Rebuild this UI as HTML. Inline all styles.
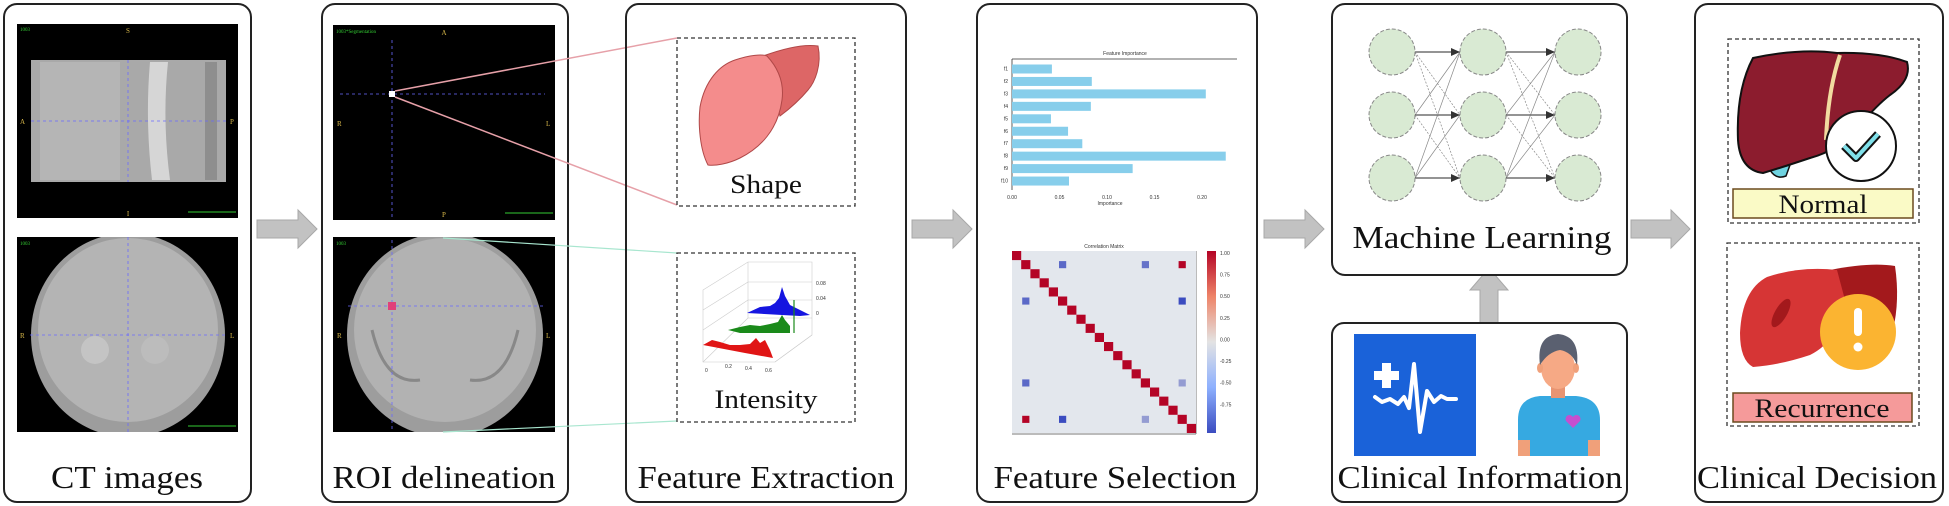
<!DOCTYPE html>
<html><head><meta charset="utf-8"><style>
html,body{margin:0;padding:0;background:#fff}
svg{display:block}
text{font-family:"Liberation Serif","Times New Roman",serif;fill:#111}
.t{font-size:32px}
.s{font-size:26px}
.tiny{font-family:"Liberation Sans",sans-serif;font-size:5px;fill:#333}
</style></head><body>
<svg id="fig" width="1949" height="506" viewBox="0 0 1949 506" xmlns="http://www.w3.org/2000/svg">
<defs>
<linearGradient id="cw" x1="0" y1="0" x2="0" y2="1">
<stop offset="0" stop-color="#b40426"/><stop offset="0.25" stop-color="#ee8468"/><stop offset="0.5" stop-color="#e3e3e3"/><stop offset="0.75" stop-color="#8db0fe"/><stop offset="1" stop-color="#3b4cc0"/>
</linearGradient>
</defs>

<g>
<rect x="4" y="4" width="247" height="498" rx="13" fill="#fff" stroke="#222" stroke-width="2"/>
<g>
<rect x="17" y="24" width="221" height="194" fill="#000"/>
<rect x="31" y="60" width="195" height="122" fill="#a9a9a9"/>
<rect x="40" y="62" width="80" height="118" fill="#b8b8b8" opacity="0.8"/>
<path d="M150 62 Q145 120 152 180 L170 180 Q162 120 168 62 Z" fill="#d6d6d6"/>
<rect x="205" y="62" width="12" height="118" fill="#8e8e8e"/>
<line x1="128" y1="60" x2="128" y2="182" stroke="#6a6aff" stroke-dasharray="3,3" stroke-width="0.8"/>
<line x1="31" y1="121" x2="226" y2="121" stroke="#6a6aff" stroke-dasharray="3,3" stroke-width="0.8"/>
<text x="128" y="33" font-size="7" text-anchor="middle" style="fill:#d8b84a">S</text>
<text x="128" y="216" font-size="7" text-anchor="middle" style="fill:#d8b84a">I</text>
<text x="20" y="124" font-size="7" style="fill:#d8b84a">A</text>
<text x="230" y="124" font-size="7" style="fill:#d8b84a">P</text>
<text x="20" y="31" font-size="5" style="fill:#3c3">1003</text>
<line x1="188" y1="212" x2="236" y2="212" stroke="#3c3" stroke-width="1"/>
</g>
<g>
<rect x="17" y="237" width="221" height="195" fill="#000"/>
<clipPath id="c1"><rect x="17" y="237" width="221" height="195"/></clipPath>
<g clip-path="url(#c1)">
<ellipse cx="128" cy="335" rx="97" ry="102" fill="#9d9d9d"/>
<ellipse cx="128" cy="330" rx="90" ry="92" fill="#b4b4b4"/>
<ellipse cx="95" cy="350" rx="14" ry="14" fill="#c4c4c4"/>
<ellipse cx="155" cy="350" rx="14" ry="14" fill="#bcbcbc"/>
</g>
<line x1="128" y1="237" x2="128" y2="432" stroke="#6a6aff" stroke-dasharray="3,3" stroke-width="0.8"/>
<line x1="30" y1="335" x2="226" y2="335" stroke="#6a6aff" stroke-dasharray="3,3" stroke-width="0.8"/>
<text x="20" y="338" font-size="7" style="fill:#d8b84a">R</text>
<text x="230" y="338" font-size="7" style="fill:#d8b84a">L</text>
<text x="20" y="245" font-size="5" style="fill:#3c3">1003</text>
<line x1="188" y1="426" x2="236" y2="426" stroke="#3c3" stroke-width="1"/>
</g>
<text class="t" x="127" y="488" text-anchor="middle" textLength="152" lengthAdjust="spacingAndGlyphs">CT images</text>
</g>

<g fill="#c2c2c2" stroke="#a8a8a8" stroke-width="1">
<path d="M257 220 H298 V210 L317 229 L298 248 V238 H257 Z"/>
<path d="M912 220 H953 V210 L972 229 L953 248 V238 H912 Z"/>
<path d="M1264 220 H1305 V210 L1324 229 L1305 248 V238 H1264 Z"/>
<path d="M1631 220 H1671 V210 L1690 229 L1671 248 V238 H1631 Z"/>
<path d="M1480 323 V290 H1470 L1489 268 L1508 290 H1498 V323 Z"/>
</g>

<g>
<rect x="322" y="4" width="246" height="498" rx="13" fill="#fff" stroke="#222" stroke-width="2"/>
<g>
<rect x="333" y="25" width="222" height="195" fill="#000"/>
<line x1="392" y1="40" x2="392" y2="220" stroke="#6a6aff" stroke-dasharray="3,3" stroke-width="0.8"/>
<line x1="340" y1="94" x2="545" y2="94" stroke="#6a6aff" stroke-dasharray="3,3" stroke-width="0.8"/>
<rect x="389" y="91" width="6" height="6" fill="#fff"/>
<text x="444" y="35" font-size="7" text-anchor="middle" style="fill:#d8b84a">A</text>
<text x="444" y="217" font-size="7" text-anchor="middle" style="fill:#d8b84a">P</text>
<text x="337" y="126" font-size="7" style="fill:#d8b84a">R</text>
<text x="546" y="126" font-size="7" style="fill:#d8b84a">L</text>
<text x="336" y="33" font-size="5" style="fill:#3c3">1003*Segmentation</text>
<line x1="505" y1="213" x2="553" y2="213" stroke="#3c3" stroke-width="1"/>
</g>
<g>
<rect x="333" y="237" width="222" height="195" fill="#000"/>
<clipPath id="c2"><rect x="333" y="237" width="222" height="195"/></clipPath>
<g clip-path="url(#c2)">
<ellipse cx="445" cy="335" rx="98" ry="102" fill="#9d9d9d"/>
<ellipse cx="445" cy="330" rx="91" ry="92" fill="#b2b2b2"/>
<path d="M372 330 Q385 385 420 380" fill="none" stroke="#888" stroke-width="3"/>
<path d="M518 330 Q505 385 470 380" fill="none" stroke="#888" stroke-width="3"/>
</g>
<line x1="392" y1="240" x2="392" y2="432" stroke="#6a6aff" stroke-dasharray="3,3" stroke-width="0.8"/>
<line x1="348" y1="306" x2="545" y2="306" stroke="#6a6aff" stroke-dasharray="3,3" stroke-width="0.8"/>
<rect x="388" y="302" width="8" height="8" fill="#e0407a"/>
<text x="337" y="338" font-size="7" style="fill:#d8b84a">R</text>
<text x="546" y="338" font-size="7" style="fill:#d8b84a">L</text>
<text x="336" y="245" font-size="5" style="fill:#3c3">1003</text>
</g>
<text class="t" x="444" y="488" text-anchor="middle" textLength="223" lengthAdjust="spacingAndGlyphs">ROI delineation</text>
</g>

<g>
<line x1="395" y1="91" x2="677" y2="38" stroke="#e6a0a8" stroke-width="1.5"/>
<line x1="395" y1="97" x2="677" y2="205" stroke="#e6a0a8" stroke-width="1.5"/>
<line x1="443" y1="238" x2="677" y2="253" stroke="#a8e6cf" stroke-width="1.2"/>
<line x1="443" y1="432" x2="677" y2="421" stroke="#a8e6cf" stroke-width="1.2"/>
</g>

<g>
<rect x="626" y="4" width="280" height="498" rx="13" fill="none" stroke="#222" stroke-width="2"/>
<rect x="677" y="38" width="178" height="168" fill="#fff" stroke="#333" stroke-width="1.3" stroke-dasharray="4,3"/>
<g>
<path d="M763 56 C785 48 805 44 818 46 C822 65 815 82 808 90 C798 102 788 110 780 116 Z" fill="#dd6666" stroke="#b04848" stroke-width="1"/>
<path d="M708 165 C700 150 698 125 700 107 C705 80 720 65 735 60 C750 55 762 54 767 56 C780 70 784 85 782 100 C778 130 760 148 740 158 C728 164 715 166 708 165 Z" fill="#f48c8c" stroke="#b04848" stroke-width="1"/>
</g>
<text class="s" x="766" y="193" text-anchor="middle" textLength="72" lengthAdjust="spacingAndGlyphs">Shape</text>
<rect x="677" y="253" width="178" height="169" fill="#fff" stroke="#333" stroke-width="1.3" stroke-dasharray="4,3"/>
<g id="hist3d">
<g stroke="#ccc" stroke-width="0.6" fill="none">
<path d="M703 290 L748 262 L812 262 L812 335 L775 362 L703 362 Z"/>
<line x1="748" y1="262" x2="748" y2="318"/><line x1="703" y1="362" x2="748" y2="318"/><line x1="748" y1="318" x2="812" y2="318"/>
<line x1="703" y1="310" x2="748" y2="282"/><line x1="748" y1="282" x2="812" y2="282"/>
<line x1="703" y1="330" x2="748" y2="300"/><line x1="748" y1="300" x2="812" y2="300"/>
<line x1="775" y1="362" x2="812" y2="335"/>
</g>
<path d="M747 313 L760 307 L770 306 L775 303 L779 298 L782 287 L785 296 L790 305 L800 310 L810 315 L800 316 Z" fill="#1515e0"/>
<path d="M728 330 L740 327 L750 325 L760 326 L770 324 L778 322 L782 315 L785 320 L790 326 L790 333 L740 333 Z" fill="#1a8a1a"/>
<line x1="794" y1="300" x2="794" y2="333" stroke="#1a8a1a" stroke-width="1.2"/>
<path d="M703 345 L712 340 L720 342 L730 345 L740 345 L750 344 L756 338 L760 343 L765 340 L770 350 L773 358 L745 353 Z" fill="#e01515"/>
<text class="tiny" x="705" y="372">0</text><text class="tiny" x="725" y="368">0.2</text><text class="tiny" x="745" y="370">0.4</text><text class="tiny" x="765" y="372">0.6</text>
<text class="tiny" x="816" y="285">0.08</text><text class="tiny" x="816" y="300">0.04</text><text class="tiny" x="816" y="315">0</text>
</g>
<text class="s" x="766" y="408" text-anchor="middle" textLength="103" lengthAdjust="spacingAndGlyphs">Intensity</text>
<text class="t" x="766" y="488" text-anchor="middle" textLength="257" lengthAdjust="spacingAndGlyphs">Feature Extraction</text>
</g>

<g>
<rect x="977" y="4" width="280" height="498" rx="13" fill="none" stroke="#222" stroke-width="2"/>
<g id="barchart">
<text class="tiny" x="1125" y="55" text-anchor="middle">Feature Importance</text>
<line x1="1012" y1="59" x2="1237" y2="59" stroke="#333" stroke-width="0.8"/>
<line x1="1012" y1="59" x2="1012" y2="190" stroke="#333" stroke-width="0.8"/>
<text class="tiny" x="1110" y="205" text-anchor="middle">Importance</text>
</g>
<g id="heatmap">
<text class="tiny" x="1104" y="248" text-anchor="middle">Correlation Matrix</text>
<line x1="1196" y1="251" x2="1196" y2="434" stroke="#777" stroke-width="1"/>
<line x1="1012" y1="434" x2="1196" y2="434" stroke="#777" stroke-width="1"/>
<rect x="1207" y="251" width="9" height="182" fill="url(#cw)"/>
</g>
<text class="t" x="1115" y="488" text-anchor="middle" textLength="243" lengthAdjust="spacingAndGlyphs">Feature Selection</text>
</g>

<g>
<rect x="1332" y="4" width="295" height="271" rx="13" fill="#fff" stroke="#222" stroke-width="2"/>
<g id="nn"></g>
<text class="t" x="1482" y="248" text-anchor="middle" textLength="259" lengthAdjust="spacingAndGlyphs">Machine Learning</text>
</g>

<g>
<rect x="1332" y="323" width="295" height="179" rx="12" fill="#fff" stroke="#222" stroke-width="2"/>
<g>
<rect x="1354" y="334" width="122" height="122" fill="#1a62d9"/>
<path d="M1382 363 h9 v8 h8 v9 h-8 v8 h-9 v-8 h-8 v-9 h8 Z" fill="#fff"/>
<polyline points="1375,397 1382,402 1390,399 1398,404 1404,397 1409,408 1414,364 1420,432 1427,391 1434,402 1441,396 1447,399 1456,399" fill="none" stroke="#fff" stroke-width="4" stroke-linejoin="round" stroke-linecap="round"/>
</g>
<g>
<path d="M1518 456 V420 Q1518 398 1540 396 L1576 396 Q1600 398 1600 420 V456 Z" fill="#36a9e1"/>
<rect x="1518" y="440" width="12" height="16" fill="#f0a07a"/>
<rect x="1588" y="440" width="12" height="16" fill="#f0a07a"/>
<rect x="1551" y="384" width="14" height="14" fill="#e89472"/>
<ellipse cx="1558" cy="368" rx="17" ry="21" fill="#f6a985"/>
<ellipse cx="1540" cy="368" rx="3" ry="5" fill="#f0a07a"/><ellipse cx="1576" cy="368" rx="3" ry="5" fill="#f0a07a"/>
<path d="M1540 365 Q1536 336 1558 334 Q1580 336 1577 365 Q1572 352 1560 350 Q1548 352 1540 365 Z" fill="#5a6070"/>
<path d="M1573 428 l-7 -7 a4 4 0 0 1 7 -4 a4 4 0 0 1 7 4 Z" fill="#c54fcf"/>
</g>
<text class="t" x="1480" y="488" text-anchor="middle" textLength="285" lengthAdjust="spacingAndGlyphs">Clinical Information</text>
</g>

<g>
<rect x="1695" y="4" width="248" height="498" rx="13" fill="#fff" stroke="#222" stroke-width="2"/>
<rect x="1728" y="39" width="191" height="184" fill="none" stroke="#333" stroke-width="1.3" stroke-dasharray="4,3"/>
<g>
<path d="M1770 170 Q1776 180 1786 176 L1790 165 Z" fill="#6fd3e0" stroke="#111" stroke-width="1.5"/>
<path d="M1753 58 Q1800 48 1837 53 Q1880 52 1907 62 Q1912 80 1890 95 Q1877 105 1860 125 Q1840 150 1810 158 Q1780 168 1763 173 Q1740 170 1738 140 Q1736 90 1753 58 Z" fill="#8c1c2e" stroke="#111" stroke-width="2"/>
<path d="M1840 55 Q1828 90 1826 140" fill="none" stroke="#f2dba0" stroke-width="4"/>
<circle cx="1861" cy="146" r="35" fill="#fff" stroke="#111" stroke-width="2"/>
<path d="M1844 146 L1856 158 L1878 134" fill="none" stroke="#111" stroke-width="8" stroke-linejoin="round"/>
<path d="M1844 146 L1856 158 L1878 134" fill="none" stroke="#7fe0ea" stroke-width="4" stroke-linejoin="round"/>
</g>
<rect x="1733" y="189" width="180" height="29" fill="#fafac6" stroke="#6b4a1e" stroke-width="1.5"/>
<text class="s" x="1823" y="213" text-anchor="middle" textLength="89" lengthAdjust="spacingAndGlyphs">Normal</text>
<rect x="1727" y="243" width="192" height="183" fill="none" stroke="#333" stroke-width="1.3" stroke-dasharray="4,3"/>
<g>
<path d="M1830 270 Q1870 262 1895 266 Q1900 300 1893 330 L1830 330 Z" fill="#a3191c"/>
<path d="M1740 333 Q1742 290 1767 277 Q1800 266 1837 270 L1845 300 Q1840 340 1810 355 Q1780 365 1753 367 Q1740 360 1740 333 Z" fill="#d63535"/>
<ellipse cx="1781" cy="313" rx="6" ry="16" transform="rotate(30 1781 313)" fill="#a3191c"/>
<circle cx="1858" cy="332" r="38" fill="#fbb431"/>
<rect x="1854" y="308" width="8" height="28" rx="4" fill="#fff"/>
<circle cx="1858" cy="347" r="4.5" fill="#fff"/>
</g>
<rect x="1733" y="393" width="179" height="29" fill="#f59a9a" stroke="#6b4a1e" stroke-width="1.5"/>
<text class="s" x="1822" y="417" text-anchor="middle" textLength="135" lengthAdjust="spacingAndGlyphs">Recurrence</text>
<text class="t" x="1817" y="488" text-anchor="middle" textLength="240" lengthAdjust="spacingAndGlyphs">Clinical Decision</text>
</g>
</svg>

<script>
const barFeatures = ["f1","f2","f3","f4","f5","f6","f7","f8","f9","f10"];
const barValues = [0.042,0.084,0.204,0.083,0.041,0.059,0.074,0.225,0.127,0.060];
const barTicks = [0,0.05,0.10,0.15,0.20];
const barTickLabels = ["0.00","0.05","0.10","0.15","0.20"];
const heatSize = 20;
const corrRows = [1,1,1,5,5,14,14,18,18,18];
const corrCols = [5,14,18,1,18,1,18,1,5,14];
const corrVals = [-0.6,-0.55,0.85,-0.6,-0.85,-0.6,-0.35,0.85,-0.85,-0.35];
const cbarTicks = [1,0.75,0.5,0.25,0,-0.25,-0.5,-0.75];

const NS = "http://www.w3.org/2000/svg";
function mk(tag, attrs, parent){const e=document.createElementNS(NS,tag);for(const k in attrs)e.setAttribute(k,attrs[k]);parent.appendChild(e);return e;}

const bx0=1012, bxPerUnit=47.5/0.05, by0=64.5, bStep=12.45, bH=9;
const xScale=v=>bx0+v*bxPerUnit;
const yBand=i=>by0+i*bStep;
const bc=document.getElementById("barchart");
barValues.forEach((v,i)=>{
  const r=mk("rect",{x:bx0,y:yBand(i),width:xScale(v)-bx0,height:bH,fill:"#87ceeb"},bc);
  
  
  const t=mk("text",{x:bx0-4,y:yBand(i)+6,"text-anchor":"end",class:"tiny"},bc);
  t.textContent=barFeatures[i];
  
  
});
barTicks.forEach((v,i)=>{
  const t=mk("text",{x:xScale(v),y:199,"text-anchor":"middle",class:"tiny"},bc);
  t.textContent=barTickLabels[i];
  
  
});

function coolwarm(v){
  const g=[227,227,227], r=[180,4,38], b=[59,76,192];
  const t=Math.min(1,Math.abs(v)*1.35), e=v>=0?r:b;
  return "rgb("+g.map((c,k)=>Math.round(c+(e[k]-c)*t)).join(",")+")";
}
const hx0=1012, hy0=251, hW=184, hHt=182;
const cx=j=>hx0+j*hW/heatSize, cy=i=>hy0+i*hHt/heatSize;
const hm=document.getElementById("heatmap");
const bg=mk("rect",{x:hx0,y:hy0,width:hW,height:hHt,fill:"#e3e7ed"},hm);


for(let i=0;i<heatSize;i++){
  const c=mk("rect",{x:cx(i),y:cy(i),width:hW/heatSize,height:hHt/heatSize,fill:"#b40426"},hm);
  
  
}
corrVals.forEach((v,k)=>{
  const c=mk("rect",{x:cx(corrCols[k])+1,y:cy(corrRows[k])+1,width:hW/heatSize-2,height:hHt/heatSize-2,fill:coolwarm(v)},hm);
  
  
});
cbarTicks.forEach(v=>{
  const t=mk("text",{x:1220,y:251+(1-v)/2*182*0.95+4,class:"tiny"},hm);
  t.textContent=v.toFixed(2);
  
  
});

const nnCols=[1392,1483,1578], nnRows=[52,115,178], nnR=23;
const nn=document.getElementById("nn");
for(let c=0;c<2;c++){
  for(const a of nnRows){for(const b of nnRows){
    const straight=a===b;
    const l=mk("line",{x1:nnCols[c]+nnR,y1:a,x2:nnCols[c+1]-nnR,y2:b,stroke:straight?"#555":"#888","stroke-width":straight?1.3:0.7,"stroke-dasharray":straight?"none":(a<b?"2,1.5":"none")},nn);
    
    
  }}
  for(const b of nnRows){
    const h=mk("path",{d:`M${nnCols[c+1]-nnR-9} ${b-4} L${nnCols[c+1]-nnR} ${b} L${nnCols[c+1]-nnR-9} ${b+4} Z`,fill:"#333"},nn);
    
    
  }
}
nnCols.forEach(x=>nnRows.forEach(y=>{
  const c=mk("circle",{cx:x,cy:y,r:nnR,fill:"#d9ead3",stroke:"#888","stroke-width":1,"stroke-dasharray":"4,2"},nn);
  
  
}));
</script>
</body></html>
